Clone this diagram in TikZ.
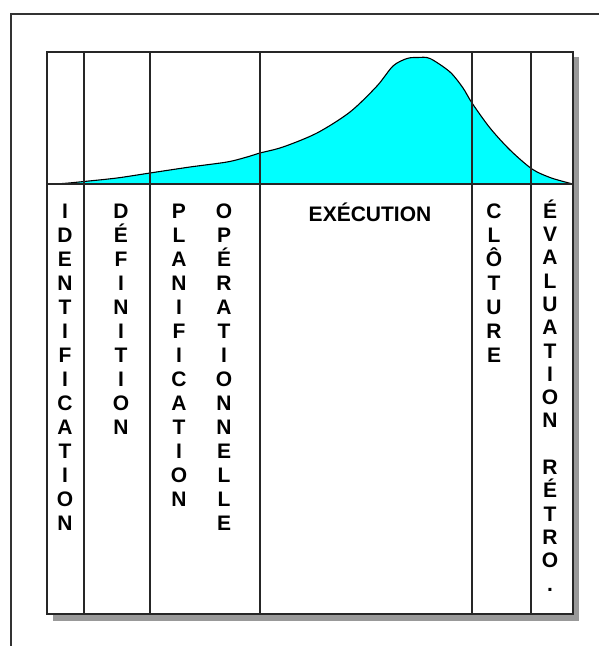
\documentclass[tikz,border=0pt]{standalone}
\usepackage{fontspec}
\setmainfont{Liberation Sans}
\definecolor{aqua}{RGB}{0,255,255}
\definecolor{shadowgray}{RGB}{153,153,153}
\begin{document}
\begin{tikzpicture}[x=1bp,y=-1bp,
  lbl/.style={inner sep=0pt, anchor=north, align=center, font=\bfseries\fontsize{21bp}{24bp}\selectfont},
  lbltight/.style={lbl, font=\bfseries\fontsize{21bp}{23.3bp}\selectfont},
  grid/.style={draw=black!85, line width=1.5bp},
  outer/.style={draw=black!80, line width=1.3bp},
  curve/.style={draw=black, line width=1.1bp}]
\useasboundingbox (0,0) rectangle (599,646);
\fill[white] (0,0) rectangle (599,646);
% outer frame
\draw[outer] (11,646) -- (11,14) -- (599,14);
% shadow and inner box
\fill[shadowgray] (53,57) rectangle (579,621);
\fill[white] (47,52) rectangle (573,614);
% curve
\def\curvepts{(47,184) (63,183.5) (84,181.5) (117,178) (150,173) (190,167) (227,162) (247,157) (260,153) (283,147) (317,133) (350,112) (377,86) (393,66) (407,58.5) (418,57.5) (430,58.5) (450,72) (463,88) (472,103) (490,128) (510,150) (532,169) (550,177.5) (567,182.5) (573,184)}
\fill[aqua] plot[smooth, tension=0.5] coordinates {\curvepts} -- cycle;
\draw[curve] plot[smooth, tension=0.5] coordinates {\curvepts};
% grid
\draw[grid] (47,52) rectangle (573,614);
\draw[grid] (47,184) -- (573,184);
\foreach \xx in {84,150,260,472,531} \draw[grid] (\xx,52) -- (\xx,614);
% labels
\node[lbl] (ident) at (65,203) {\rule{0pt}{15bp}I\\D\\E\\N\\T\\I\\F\\I\\C\\A\\T\\I\\O\\N};
\node[lbl] (def) at (121,203) {\rule{0pt}{15bp}D\\É\\F\\I\\N\\I\\T\\I\\O\\N};
\node[lbl] (plan) at (179,203) {\rule{0pt}{15bp}P\\L\\A\\N\\I\\F\\I\\C\\A\\T\\I\\O\\N};
\node[lbl] (oper) at (224,203) {\rule{0pt}{15bp}O\\P\\É\\R\\A\\T\\I\\O\\N\\N\\E\\L\\L\\E};
\node[lbl] (exec) at (370,203) {\rule{0pt}{15bp}EXÉCUTION};
\node[lbl] (clot) at (494,203) {\rule{0pt}{15bp}C\\L\\Ô\\T\\U\\R\\E};
\node[lbltight] (eval) at (550,203) {\rule{0pt}{15bp}\smash{É}\\V\\A\\L\\U\\A\\T\\I\\O\\N\\\mbox{}\\R\\É\\T\\R\\O\\.};
\end{tikzpicture}
\end{document}
